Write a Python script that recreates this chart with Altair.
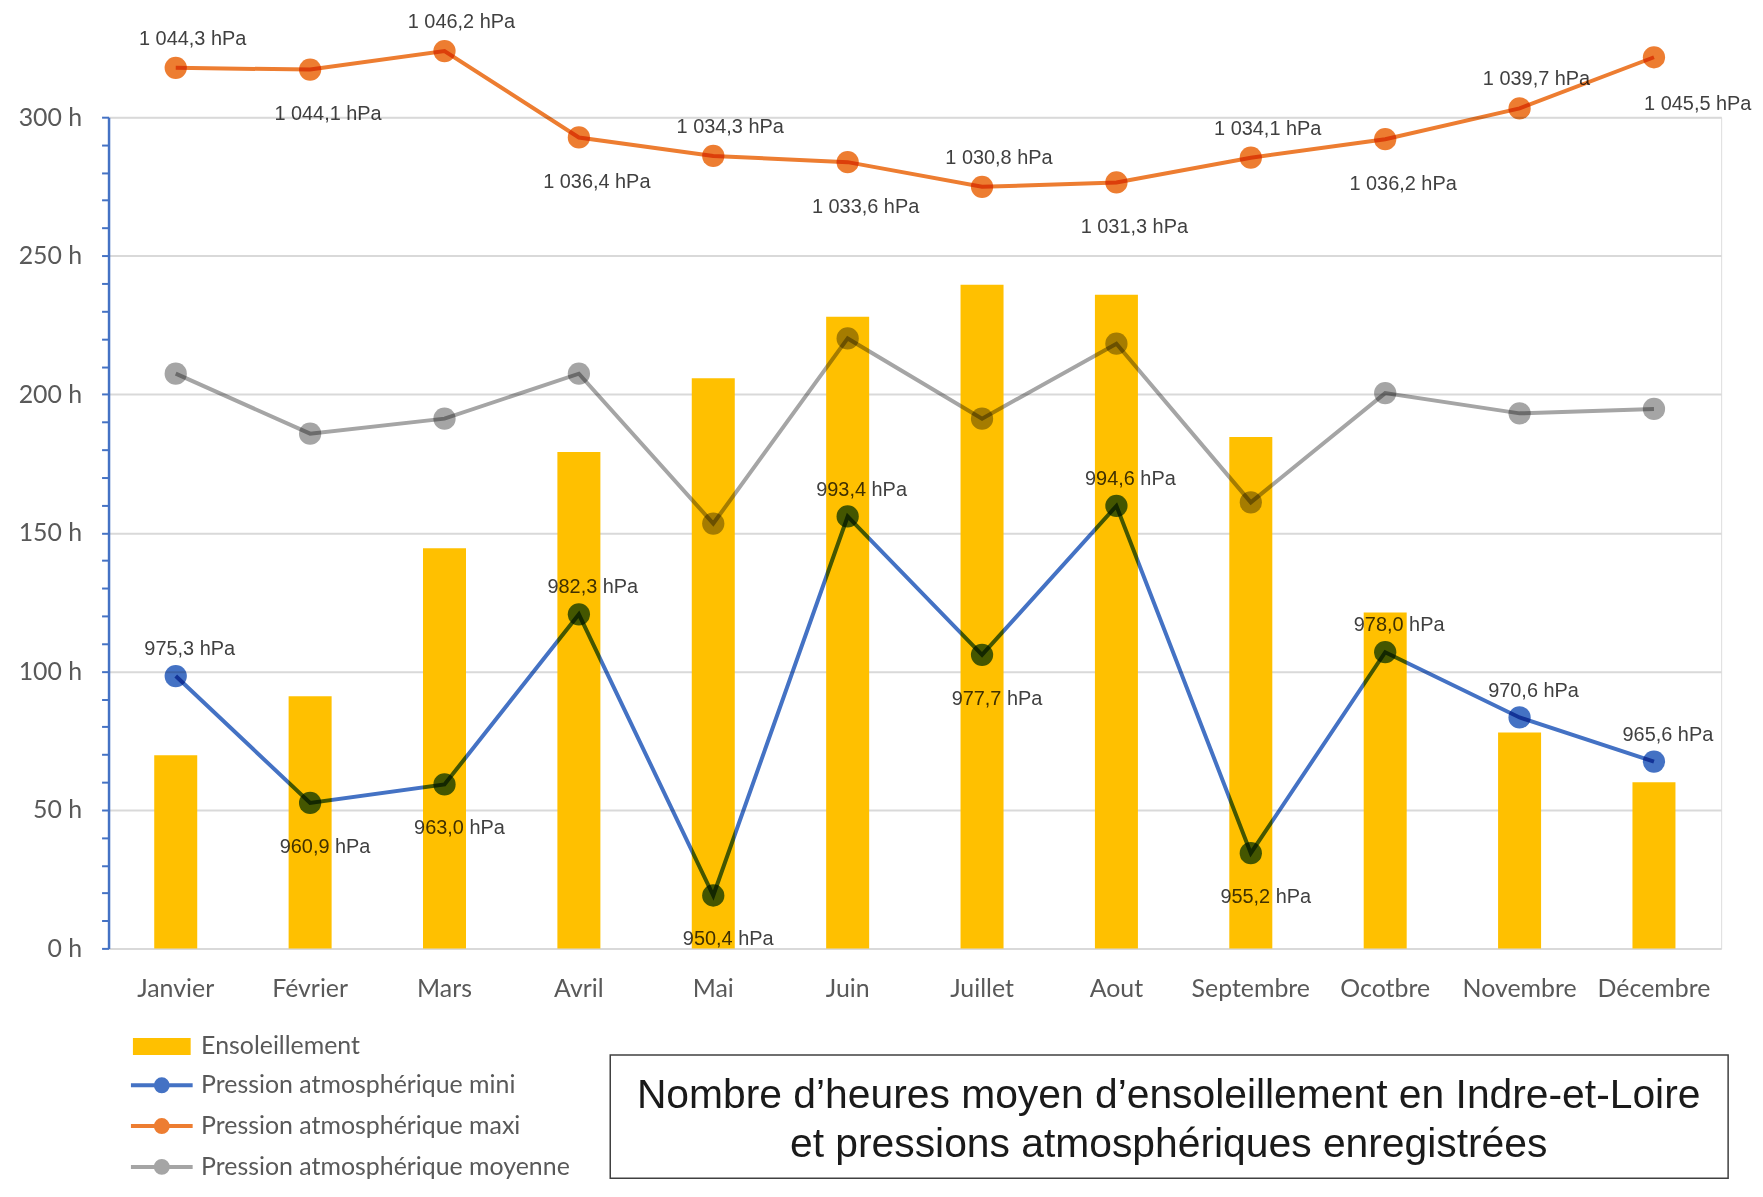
import altair as alt
import pandas as pd

# ---------------- data ----------------
months = ["Janvier", "Février", "Mars", "Avril", "Mai", "Juin", "Juillet",
          "Aout", "Septembre", "Ocotbre", "Novembre", "Décembre"]
ensoleillement_h = [69.7, 91.0, 144.4, 179.2, 205.8, 228.0, 239.5, 235.9, 184.6, 121.2, 77.9, 60.0]
pression_mini = [975.3, 960.9, 963.0, 982.3, 950.4, 993.4, 977.7, 994.6, 955.2, 978.0, 970.6, 965.6]
pression_maxi = [1044.3, 1044.1, 1046.2, 1036.4, 1034.3, 1033.6, 1030.8, 1031.3, 1034.1, 1036.2, 1039.7, 1045.5]
pression_moyenne = [1009.6, 1002.8, 1004.5, 1009.6, 992.6, 1013.6, 1004.5, 1013.0, 995.0, 1007.4, 1005.1, 1005.6]
y_ticks_h = list(range(0, 301, 10))

serie_sun = "Ensoleillement"
serie_mini = "Pression atmosphérique mini"
serie_maxi = "Pression atmosphérique maxi"
serie_moy = "Pression atmosphérique moyenne"

titre = ["Nombre d\u2019heures moyen d\u2019ensoleillement en Indre-et-Loire",
         "et pressions atmosphériques enregistrées"]

# ---------------- tables ----------------
bars_df = pd.DataFrame({"mois": months, "heures": ensoleillement_h, "serie": serie_sun})
press_df = pd.concat([
    pd.DataFrame({"mois": months, "hpa": pression_moyenne, "serie": serie_moy}),
    pd.DataFrame({"mois": months, "hpa": pression_maxi, "serie": serie_maxi}),
    pd.DataFrame({"mois": months, "hpa": pression_mini, "serie": serie_mini}),
], ignore_index=True)

# ---------------- style / layout ----------------
GOLD = "#FFC000"
BLUE = "#4472C4"
ORANGE = "#ED7D31"
GRAY = "#A5A5A5"
AXIS_TXT = "#595959"
LABEL_TXT = "#404040"
W, H = 1620, 835

maxi_above = ["Janvier", "Mars", "Mai", "Juillet", "Septembre", "Novembre"]
maxi_below = ["Février", "Avril", "Juin", "Aout", "Ocotbre"]
maxi_below_far = ["Décembre"]
mini_above = ["Janvier", "Avril", "Juin", "Aout", "Ocotbre", "Novembre", "Décembre"]
mini_below = [m for m in months if m not in mini_above]

x_enc = alt.X(
    "mois:N", sort=months,
    scale=alt.Scale(paddingInner=0.68, paddingOuter=0.34),
    axis=alt.Axis(title=None, domain=False, ticks=False, grid=False, labelAngle=0,
                  labelPadding=28, labelFont="Lato", labelFontSize=25, labelColor=AXIS_TXT),
)

legend_common = dict(title=None, orient="none", legendX=41, symbolSize=400, padding=0,
                     labelOffset=27, labelLimit=0, labelFont="Lato", labelFontSize=25,
                     labelColor=AXIS_TXT)

bars = alt.Chart(bars_df).mark_bar().encode(
    x=x_enc,
    y=alt.Y("heures:Q", scale=alt.Scale(domain=[0, 300], nice=False),
            axis=alt.Axis(values=y_ticks_h, title=None,
                          labelExpr="datum.value % 50 === 0 ? datum.value + ' h' : ''",
                          grid=True, gridColor="#D9D9D9", gridWidth=2,
                          gridOpacity={"condition": {"test": "datum.value % 50 === 0", "value": 1}, "value": 0},
                          domainColor=BLUE, domainWidth=2.5, tickColor=BLUE, tickWidth=2, tickSize=7,
                          labelPadding=20, labelFont="Lato", labelFontSize=25, labelColor=AXIS_TXT,
                          labelOverlap=False)),
    fill=alt.Fill("serie:N", scale=alt.Scale(domain=[serie_sun], range=[GOLD]),
                  legend=alt.Legend(legendY=921, symbolType="M-2.9,-0.85H2.9V0.85H-2.9Z",
                                    symbolStrokeWidth=0, **legend_common)),
)

y_p = alt.Y("hpa:Q", scale=alt.Scale(domain=[944.4, 1038.7], nice=False, zero=False), axis=None)

marker_path = ("M-3.1,0H3.1"
               "M-0.6,0A0.6,0.6,0,1,1,0.6,0A0.6,0.6,0,1,1,-0.6,0"
               "M-0.33,0A0.33,0.33,0,1,1,0.33,0A0.33,0.33,0,1,1,-0.33,0"
               "M-0.1,0A0.1,0.1,0,1,1,0.1,0A0.1,0.1,0,1,1,-0.1,0")

lines = alt.Chart(press_df).mark_line(strokeWidth=4, blend="multiply").encode(
    x=x_enc, y=y_p,
    stroke=alt.Stroke("serie:N",
                      scale=alt.Scale(domain=[serie_mini, serie_maxi, serie_moy], range=[BLUE, ORANGE, GRAY]),
                      legend=alt.Legend(legendY=960, symbolType=marker_path, symbolStrokeWidth=4,
                                        rowPadding=12, **legend_common)),
    detail="serie:N",
)

points = alt.Chart(press_df).mark_circle(size=500, opacity=1, blend="multiply").encode(
    x=x_enc, y=y_p,
    color=alt.Color("serie:N",
                    scale=alt.Scale(domain=[serie_mini, serie_maxi, serie_moy], range=[BLUE, ORANGE, GRAY]),
                    legend=None),
)

label_expr = ("(datum.hpa >= 1000 ? '1 ' + replace(format(datum.hpa - 1000, '05.1f'), '.', ',') "
              ": replace(format(datum.hpa, '.1f'), '.', ',')) + ' hPa'")


def labels(serie, month_list, dy, dx):
    return alt.Chart(press_df).transform_filter(
        alt.FieldEqualPredicate(field="serie", equal=serie)
    ).transform_filter(
        alt.FieldOneOfPredicate(field="mois", oneOf=month_list)
    ).transform_calculate(lbl=label_expr).mark_text(
        font="Liberation Sans", fontSize=20, color=LABEL_TXT, dy=dy, dx=dx,
        baseline="middle", align="center", blend="multiply",
    ).encode(x=x_enc, y=y_p, text="lbl:N")


frame = alt.Chart(alt.Data(values=[{"k": 1}])).mark_rect(
    fill="transparent", stroke="#404040", strokeWidth=1.5
).encode(x=alt.value(504), x2=alt.value(1627), y=alt.value(942), y2=alt.value(1066))

chart = alt.layer(
    bars, lines, points,
    labels(serie_maxi, maxi_above, -29, 17),
    labels(serie_maxi, maxi_below, 45, 18),
    labels(serie_maxi, maxi_below_far, 47, 44),
    labels(serie_mini, mini_above, -27, 14),
    labels(serie_mini, mini_below, 44, 15),
    frame,
).resolve_scale(y="independent").properties(
    width=W, height=H,
    title=alt.TitleParams(text=titre, orient="bottom", anchor="middle", frame="group",
                          font="Liberation Sans", fontSize=41, fontWeight="normal",
                          color="#1a1a1a", lineHeight=50, dx=255, offset=40, dy=-146),
    autosize=alt.AutoSizeParams(type="none"),
    padding={"left": 101, "top": 107, "right": 34, "bottom": 234},
).configure_view(strokeWidth=0).configure(background="white")

chart.save("out.html", embed_options={"renderer": "svg", "actions": False})
